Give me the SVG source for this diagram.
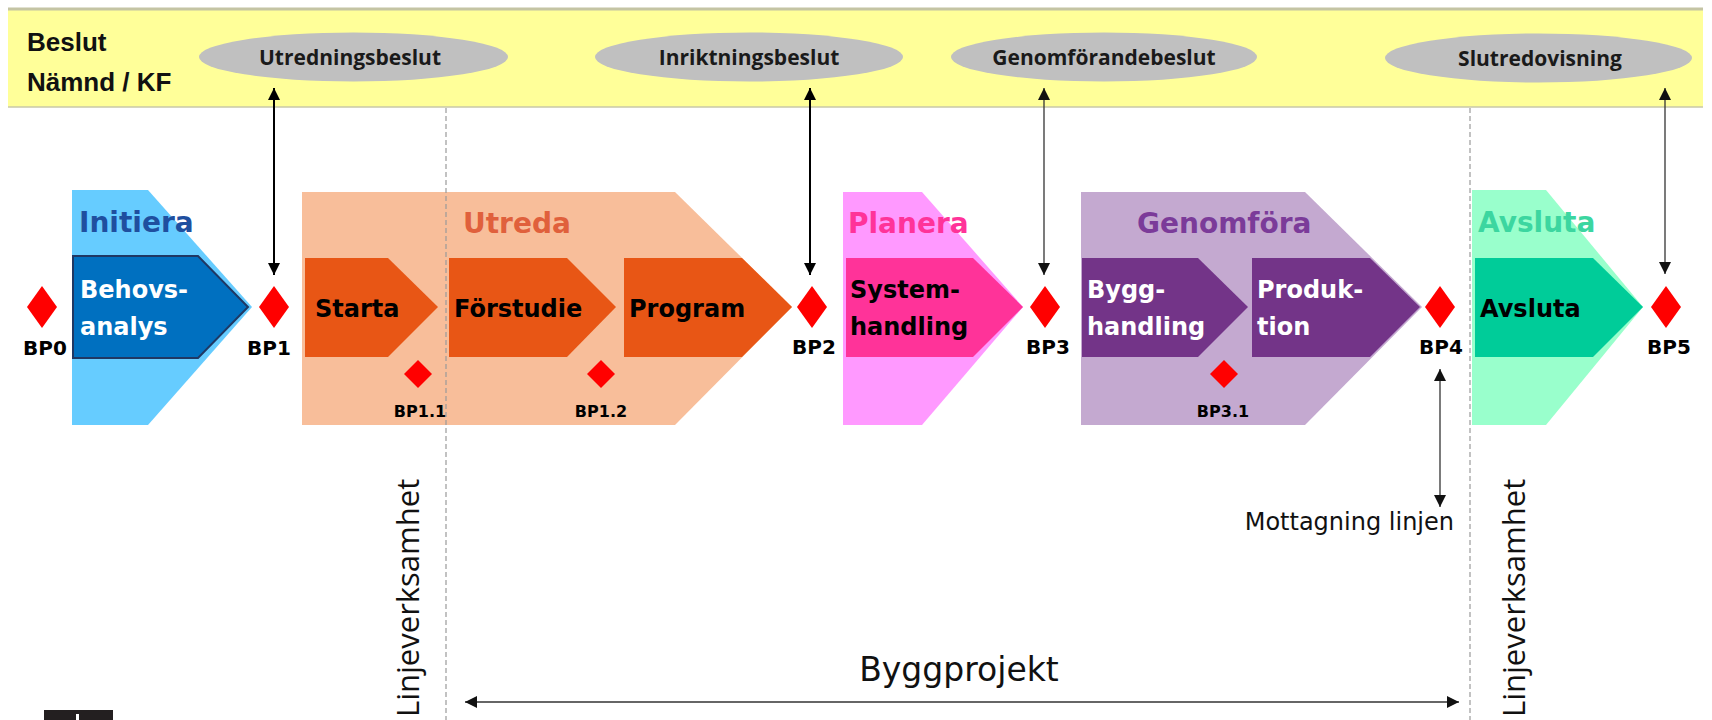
<svg xmlns="http://www.w3.org/2000/svg" width="1712" height="720" viewBox="0 0 1712 720">
<defs>
<style>
.band{fill:#ffff99}
.dec{fill:#c0c0c0}
.dect{font-family:"Open Sans","Liberation Sans",sans-serif;font-weight:bold;font-size:21px;fill:#1a1a1a;text-anchor:middle}
.head{font-family:"Liberation Sans",Arial,sans-serif;font-weight:bold;font-size:26px;fill:#111}
.ph{font-family:"DejaVu Sans",sans-serif;font-weight:bold;font-size:28px}
.st{font-family:"DejaVu Sans",sans-serif;font-weight:bold;font-size:24px}
.bp{font-family:"DejaVu Sans",sans-serif;font-weight:bold;font-size:20px;fill:#000;text-anchor:middle}
.bps{font-family:"DejaVu Sans",sans-serif;font-weight:bold;font-size:16px;fill:#000;text-anchor:middle}
.dia{fill:#ff0000}
.dash{stroke:#9a9a9a;stroke-width:1.2;stroke-dasharray:5 3;fill:none}
.a1{stroke:#000;stroke-width:2;fill:none;marker-start:url(#ah);marker-end:url(#ah)}
.a2{stroke:#333;stroke-width:1.3;fill:none;marker-start:url(#ah2);marker-end:url(#ah2)}
.rot{font-family:"Open Sans","Liberation Sans",sans-serif;font-size:31px;fill:#111}
.lbl{font-family:"DejaVu Sans",sans-serif;font-size:24px;fill:#111}
</style>
<marker id="ah" viewBox="0 0 10 10" refX="10" refY="5" markerWidth="12" markerHeight="12" markerUnits="userSpaceOnUse" orient="auto-start-reverse"><path d="M0,0 L10,5 L0,10 Z" fill="#000"/></marker>
<marker id="ah2" viewBox="0 0 10 10" refX="10" refY="5" markerWidth="12" markerHeight="12" markerUnits="userSpaceOnUse" orient="auto-start-reverse"><path d="M0,0 L10,5 L0,10 Z" fill="#111"/></marker>
</defs>
<rect width="1712" height="720" fill="#ffffff"/>

<g id="band">
<rect class="band" x="8" y="9" width="1695" height="98"/>
<line x1="8" y1="9" x2="1703" y2="9" stroke="#c4c4a4" stroke-width="3"/>
<line x1="8" y1="107" x2="1703" y2="107" stroke="#c8c8a8" stroke-width="1.5"/>
<text class="head" x="27" y="51">Beslut</text>
<text class="head" x="27" y="91">Nämnd / KF</text>
</g>

<g id="dec-utredningsbeslut"><ellipse class="dec" cx="353.5" cy="57" rx="154.5" ry="24.5"/><text class="dect" x="350" y="65">Utredningsbeslut</text></g>
<g id="dec-inriktningsbeslut"><ellipse class="dec" cx="749" cy="57" rx="154" ry="24.5"/><text class="dect" x="749" y="65">Inriktningsbeslut</text></g>
<g id="dec-genomforandebeslut"><ellipse class="dec" cx="1104" cy="57" rx="153" ry="24.5"/><text class="dect" x="1104" y="65">Genomförandebeslut</text></g>
<g id="dec-slutredovisning"><ellipse class="dec" cx="1538.5" cy="58" rx="153.5" ry="24.5"/><text class="dect" x="1540" y="66">Slutredovisning</text></g>

<g id="phase-initiera"><polygon points="72,190 148,190 252,307 148,425 72,425" fill="#66ccff"/><text class="ph" x="79" y="232" fill="#1f4f9f">Initiera</text></g>
<g id="phase-utreda"><polygon points="302,192 675,192 792,307 675,425 302,425" fill="#f8be9a"/><text class="ph" x="463" y="233" fill="#e0603c">Utreda</text></g>
<g id="phase-planera"><polygon points="843,192 922,192 1023,307 922,425 843,425" fill="#ff99ff"/><text class="ph" x="848" y="233" fill="#ff3399">Planera</text></g>
<g id="phase-genomfora"><polygon points="1081,192 1305,192 1422,307 1305,425 1081,425" fill="#c4a9d0"/><text class="ph" x="1137" y="233" fill="#7b3b99">Genomföra</text></g>
<g id="phase-avsluta"><polygon points="1472,190 1546,190 1643,307 1546,425 1472,425" fill="#99ffcc"/><text class="ph" x="1478" y="232" fill="#3cd6a0">Avsluta</text></g>

<g id="dashed-lines">
<line class="dash" x1="446" y1="108" x2="446" y2="720"/>
<line class="dash" x1="1470" y1="108" x2="1470" y2="720"/>
</g>

<g id="step-behovsanalys"><polygon points="73,256 198,256 248,307 198,358 73,358" fill="#0070c0" stroke="#1f3864" stroke-width="2"/><text class="st" x="80" y="298" fill="#fff">Behovs-</text><text class="st" x="80" y="335" fill="#fff">analys</text></g>
<g id="step-starta"><polygon points="305,258 388,258 438,307 388,357 305,357" fill="#e85615"/><text class="st" x="315" y="317" fill="#000">Starta</text></g>
<g id="step-forstudie"><polygon points="449,258 567,258 616,307 567,357 449,357" fill="#e85615"/><text class="st" x="454" y="317" fill="#000">Förstudie</text></g>
<g id="step-program"><polygon points="624,258 742,258 792,307 742,357 624,357" fill="#e85615"/><text class="st" x="629" y="317" fill="#000">Program</text></g>
<g id="step-systemhandling"><polygon points="846,258 973,258 1023,307 973,357 846,357" fill="#ff3399"/><text class="st" x="850" y="298" fill="#000">System-</text><text class="st" x="850" y="335" fill="#000">handling</text></g>
<g id="step-bygghandling"><polygon points="1082,258 1198,258 1248,307 1198,357 1082,357" fill="#733488"/><text class="st" x="1087" y="298" fill="#fff">Bygg-</text><text class="st" x="1087" y="335" fill="#fff">handling</text></g>
<g id="step-produktion"><polygon points="1252,258 1370,258 1420,307 1370,357 1252,357" fill="#733488"/><text class="st" x="1257" y="298" fill="#fff">Produk-</text><text class="st" x="1257" y="335" fill="#fff">tion</text></g>
<g id="step-avsluta"><polygon points="1475,258 1593,258 1643,307 1593,357 1475,357" fill="#00cc99"/><text class="st" x="1480" y="317" fill="#000">Avsluta</text></g>

<g id="bp0"><path class="dia" d="M42,286 L57,307 L42,328 L27,307 Z"/><text class="bp" x="45" y="355">BP0</text></g>
<g id="bp1"><path class="dia" d="M274,286 L289,307 L274,328 L259,307 Z"/><text class="bp" x="269" y="355">BP1</text></g>
<g id="bp2"><path class="dia" d="M812,286 L827,307 L812,328 L797,307 Z"/><text class="bp" x="814" y="354">BP2</text></g>
<g id="bp3"><path class="dia" d="M1045,286 L1060,307 L1045,328 L1030,307 Z"/><text class="bp" x="1048" y="354">BP3</text></g>
<g id="bp4"><path class="dia" d="M1440,286 L1455,307 L1440,328 L1425,307 Z"/><text class="bp" x="1441" y="354">BP4</text></g>
<g id="bp5"><path class="dia" d="M1666,286 L1681,307 L1666,328 L1651,307 Z"/><text class="bp" x="1669" y="354">BP5</text></g>
<g id="bp1-1"><path class="dia" d="M418,360 L432,374 L418,388 L404,374 Z"/><text class="bps" x="420" y="417">BP1.1</text></g>
<g id="bp1-2"><path class="dia" d="M601,360 L615,374 L601,388 L587,374 Z"/><text class="bps" x="601" y="417">BP1.2</text></g>
<g id="bp3-1"><path class="dia" d="M1224,360 L1238,374 L1224,388 L1210,374 Z"/><text class="bps" x="1223" y="417">BP3.1</text></g>

<g id="connectors">
<line class="a1" x1="274" y1="88" x2="274" y2="275"/>
<line class="a1" x1="810" y1="88" x2="810" y2="275"/>
<line class="a2" x1="1044" y1="88" x2="1044" y2="275"/>
<line class="a2" x1="1665" y1="88" x2="1665" y2="274"/>
<line class="a2" x1="1440" y1="369" x2="1440" y2="507"/>
<line class="a2" x1="465" y1="702" x2="1459" y2="702"/>
</g>

<g id="annotations">
<text class="lbl" x="1454" y="530" text-anchor="end">Mottagning linjen</text>
<text class="rot" x="419" y="717" transform="rotate(-90 419 717)">Linjeverksamhet</text>
<text class="rot" x="1525" y="717" transform="rotate(-90 1525 717)">Linjeverksamhet</text>
<text x="959" y="681" text-anchor="middle" style="font-family:'DejaVu Sans',sans-serif;font-size:33px;fill:#111">Byggprojekt</text>
</g>

<g id="corner-icon">
<rect x="44" y="710" width="69" height="10" fill="#231f20"/>
<rect x="76" y="714" width="3" height="6" fill="#ffffff"/>
</g>
</svg>
